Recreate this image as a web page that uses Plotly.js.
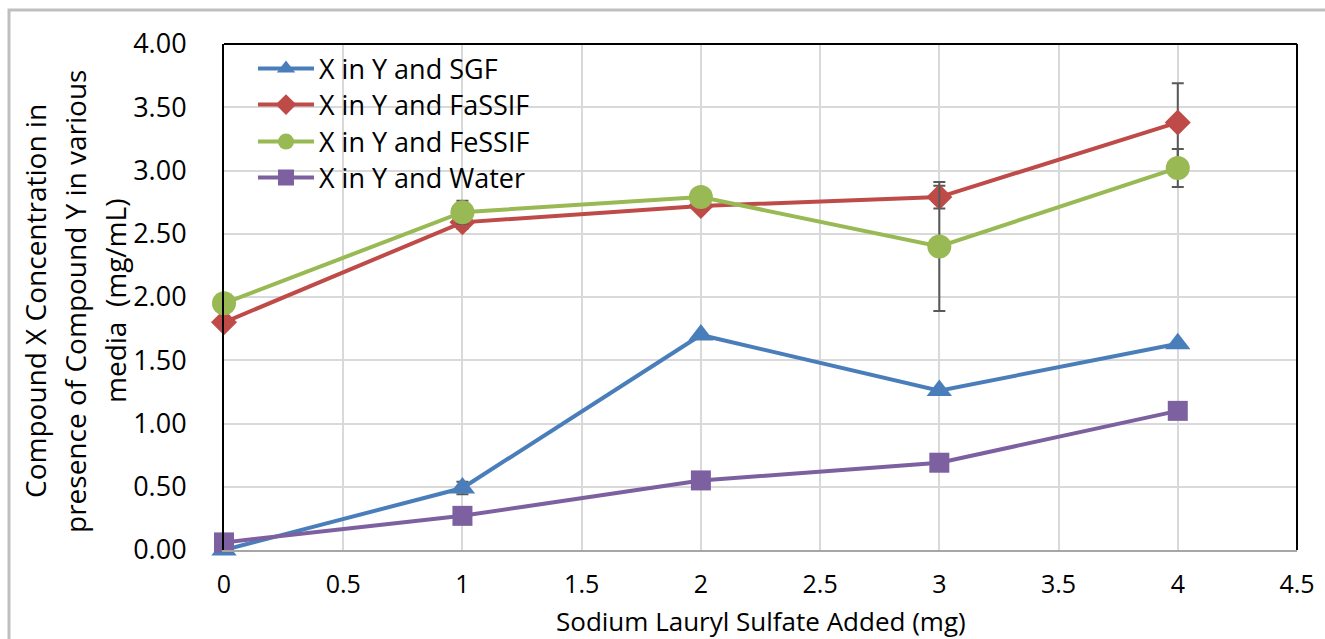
<!DOCTYPE html>
<html>
<head>
<meta charset="utf-8">
<script src="https://cdn.plot.ly/plotly-3.0.1.min.js"></script>
<style>
  html, body { margin: 0; padding: 0; background: #ffffff; }
  #chart { width: 1325px; height: 639px; }
</style>
</head>
<body>
<div id="chart"></div>
<script>
// Sodium lauryl sulfate added (mg)
const slsAdded = [0, 1, 2, 3, 4];

// Concentration of compound X (mg/mL) in each medium
const sgfValues    = [0.00, 0.49, 1.70, 1.26, 1.63];
const fassifValues = [1.80, 2.59, 2.72, 2.79, 3.38];
const fessifValues = [1.95, 2.67, 2.79, 2.40, 3.02];
const waterValues  = [0.06, 0.27, 0.55, 0.69, 1.10];

// Error bar half-widths
const sgfErrors    = [0.00, 0.05, 0.00, 0.00, 0.00];
const fassifErrors = [0.00, 0.05, 0.02, 0.09, 0.31];
const fessifErrors = [0.00, 0.09, 0.02, 0.51, 0.15];
const waterErrors  = [0.00, 0.00, 0.00, 0.00, 0.00];

const seriesNames = ["X in Y and SGF", "X in Y and FaSSIF", "X in Y and FeSSIF", "X in Y and Water"];
const yTitleLines = ["Compound X Concentration in", "presence of Compound Y in various", "media  (mg/mL)"];
const xTitle = "Sodium Lauryl Sulfate Added (mg)";

const FONT = "Open Sans, Liberation Sans, sans-serif";
const colors = ["#4A7EBB", "#BE4B48", "#98B954", "#7D60A0"];
const symbols = ["triangle-up", "diamond", "circle", "square"];
const sizes = [22, 20, 24, 20];
const values = [sgfValues, fassifValues, fessifValues, waterValues];
const errors = [sgfErrors, fassifErrors, fessifErrors, waterErrors];
const legendIds = ["legend", "legend2", "legend3", "legend4"];

const traces = values.map((v, i) => ({
  type: "scatter",
  mode: "lines+markers",
  name: seriesNames[i],
  x: slsAdded,
  y: v,
  cliponaxis: false,
  legend: legendIds[i],
  line: { color: colors[i], width: 4 },
  marker: { symbol: symbols[i], size: sizes[i], color: colors[i], line: { width: 0 } },
  error_y: {
    type: "data",
    array: errors[i],
    visible: true,
    color: "#595959",
    thickness: 2,
    width: 6
  }
}));

// Plot area spans 224..1297 px horizontally and 44..550 px vertically
const L = 224, R = 1297, T = 44, B = 550;
const px2x = p => (p - L) / (R - L);
const px2y = p => (B - p) / (B - T);

const legendRows = [69, 105, 142, 178];
const legendBase = {
  x: px2x(253),
  xanchor: "left",
  yanchor: "middle",
  bgcolor: "rgba(0,0,0,0)",
  borderwidth: 0,
  itemwidth: 56,
  font: { family: FONT, size: 27, color: "#000000" }
};
const legends = {};
legendIds.forEach((id, i) => {
  legends[id] = Object.assign({}, legendBase, { y: px2y(legendRows[i]) });
});

const yTitleX = [35, 75, 115];
const annotations = yTitleLines.map((t, i) => ({
  text: t,
  xref: "paper", yref: "paper",
  x: px2x(yTitleX[i]), y: px2y(301),
  xanchor: "center", yanchor: "middle",
  textangle: -90,
  showarrow: false,
  font: { family: FONT, size: 28, color: "#000000" }
}));
annotations.push({
  text: xTitle,
  xref: "paper", yref: "paper",
  x: 0.5, y: px2y(621),
  xanchor: "center", yanchor: "middle",
  showarrow: false,
  borderpad: 0,
  font: { family: FONT, size: 26, color: "#000000" }
});

const layout = Object.assign({
  width: 1325,
  height: 639,
  margin: { l: L, r: 1325 - R, t: T, b: 639 - B, pad: 0 },
  paper_bgcolor: "#ffffff",
  plot_bgcolor: "#ffffff",
  font: { family: FONT, size: 27, color: "#000000" },
  showlegend: true,
  xaxis: {
    range: [0, 4.5],
    dtick: 0.5,
    tick0: 0,
    showgrid: true,
    gridcolor: "#D9D9D9",
    gridwidth: 2,
    zeroline: false,
    showline: true,
    linecolor: "#A6A6A6",
    linewidth: 2,
    ticks: "",
    ticklabelstandoff: 11,
    tickfont: { family: FONT, size: 25, color: "#000000" },
    fixedrange: true
  },
  yaxis: {
    range: [0, 4],
    dtick: 0.5,
    tick0: 0,
    tickformat: ".2f",
    showgrid: true,
    gridcolor: "#D9D9D9",
    gridwidth: 2,
    zeroline: false,
    showline: true,
    linecolor: "#000000",
    linewidth: 2,
    ticks: "",
    ticklabelstandoff: 30,
    tickfont: { family: FONT, size: 27, color: "#000000" },
    fixedrange: true
  },
  annotations: annotations,
  shapes: [
    // top and right edges of the plot area
    { type: "line", xref: "paper", yref: "paper", x0: 0, x1: 1, y0: 1, y1: 1,
      line: { color: "#000000", width: 2 } },
    { type: "line", xref: "paper", yref: "paper", x0: 1, x1: 1, y0: 0, y1: 1,
      line: { color: "#000000", width: 2 } },
    // outer chart frame
    { type: "rect", xref: "paper", yref: "paper",
      x0: px2x(9), x1: px2x(1340), y0: px2y(660), y1: px2y(10),
      line: { color: "#BFBFBF", width: 3 }, layer: "below" }
  ]
}, legends);

Plotly.newPlot("chart", traces, layout, { displayModeBar: false, staticPlot: true });
</script>
</body>
</html>
